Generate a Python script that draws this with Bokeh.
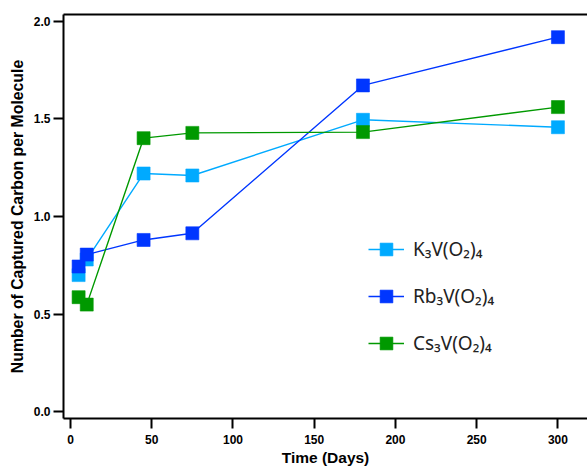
from bokeh.plotting import figure
from bokeh.models import Range1d, LinearAxis, Legend, LegendItem, FixedTicker, NumeralTickFormatter
from bokeh.embed import file_html
from bokeh.resources import INLINE

days = [5, 10, 45, 75, 180, 300]
k_vals = [0.70, 0.78, 1.22, 1.21, 1.495, 1.457]
rb_vals = [0.744, 0.805, 0.88, 0.914, 1.671, 1.918]
cs_vals = [0.587, 0.549, 1.401, 1.428, 1.432, 1.56]
labels = ["K₃V(O₂)₄", "Rb₃V(O₂)₄", "Cs₃V(O₂)₄"]
colors = ["#00AAFF", "#0036FF", "#009900"]
x_ticks = [0, 50, 100, 150, 200, 250, 300]
y_ticks = [0.0, 0.5, 1.0, 1.5, 2.0]

p = figure(width=587, height=468, output_backend="svg", toolbar_location=None,
           x_range=Range1d(-4.3, 318.2), y_range=Range1d(-0.034, 2.034),
           min_border_left=63, min_border_right=0, min_border_top=14, min_border_bottom=50)
p.outline_line_color = None
p.xgrid.visible = False
p.ygrid.visible = False

FONT = "Liberation Sans"
for ax in (p.xaxis[0], p.yaxis[0]):
    ax.axis_line_width = 2
    ax.axis_line_color = "black"
    ax.major_tick_line_width = 2
    ax.major_tick_out = 10
    ax.major_tick_in = 0
    ax.minor_tick_line_color = None
    ax.major_label_text_font = FONT
    ax.major_label_text_font_style = "bold"
    ax.major_label_text_font_size = "12px"
    ax.major_label_text_color = "black"
    ax.axis_label_text_font = FONT
    ax.axis_label_text_font_style = "bold"
    ax.axis_label_text_color = "black"

p.xaxis[0].axis_label_text_font_size = "15.5px"
p.yaxis[0].axis_label_text_font_size = "15.8px"
p.xaxis[0].ticker = FixedTicker(ticks=x_ticks)
p.yaxis[0].ticker = FixedTicker(ticks=y_ticks)
p.yaxis[0].formatter = NumeralTickFormatter(format="0.0")
p.xaxis[0].axis_label = "Time (Days)"
p.yaxis[0].axis_label = "Number of Captured Carbon per Molecule"
p.xaxis[0].major_label_standoff = 6
p.yaxis[0].major_label_standoff = 3
p.xaxis[0].axis_label_standoff = 2
p.yaxis[0].axis_label_standoff = 5

top = LinearAxis(axis_line_width=2, axis_line_color="black", major_tick_line_color=None,
                 minor_tick_line_color=None, major_label_text_font_size="0px")
top.ticker = FixedTicker(ticks=[])
p.add_layout(top, "above")

items = []
for vals, col, lab in zip([k_vals, rb_vals, cs_vals], colors, labels):
    ln = p.line(days, vals, line_color=col, line_width=1.4)
    sc = p.scatter(days, vals, marker="square", size=13, fill_color=col, line_color=col, line_alpha=0.6)
    items.append(LegendItem(label=lab, renderers=[ln, sc]))

legend = Legend(items=items, location=(305, 59), border_line_color=None,
                background_fill_alpha=0, glyph_width=36, glyph_height=32, spacing=15,
                label_standoff=9, label_text_font="Noto Sans", label_text_font_size="19px",
                label_text_color="#222222", padding=10, margin=0)
p.add_layout(legend, "center")

open("out.html", "w").write(file_html(p, INLINE))
